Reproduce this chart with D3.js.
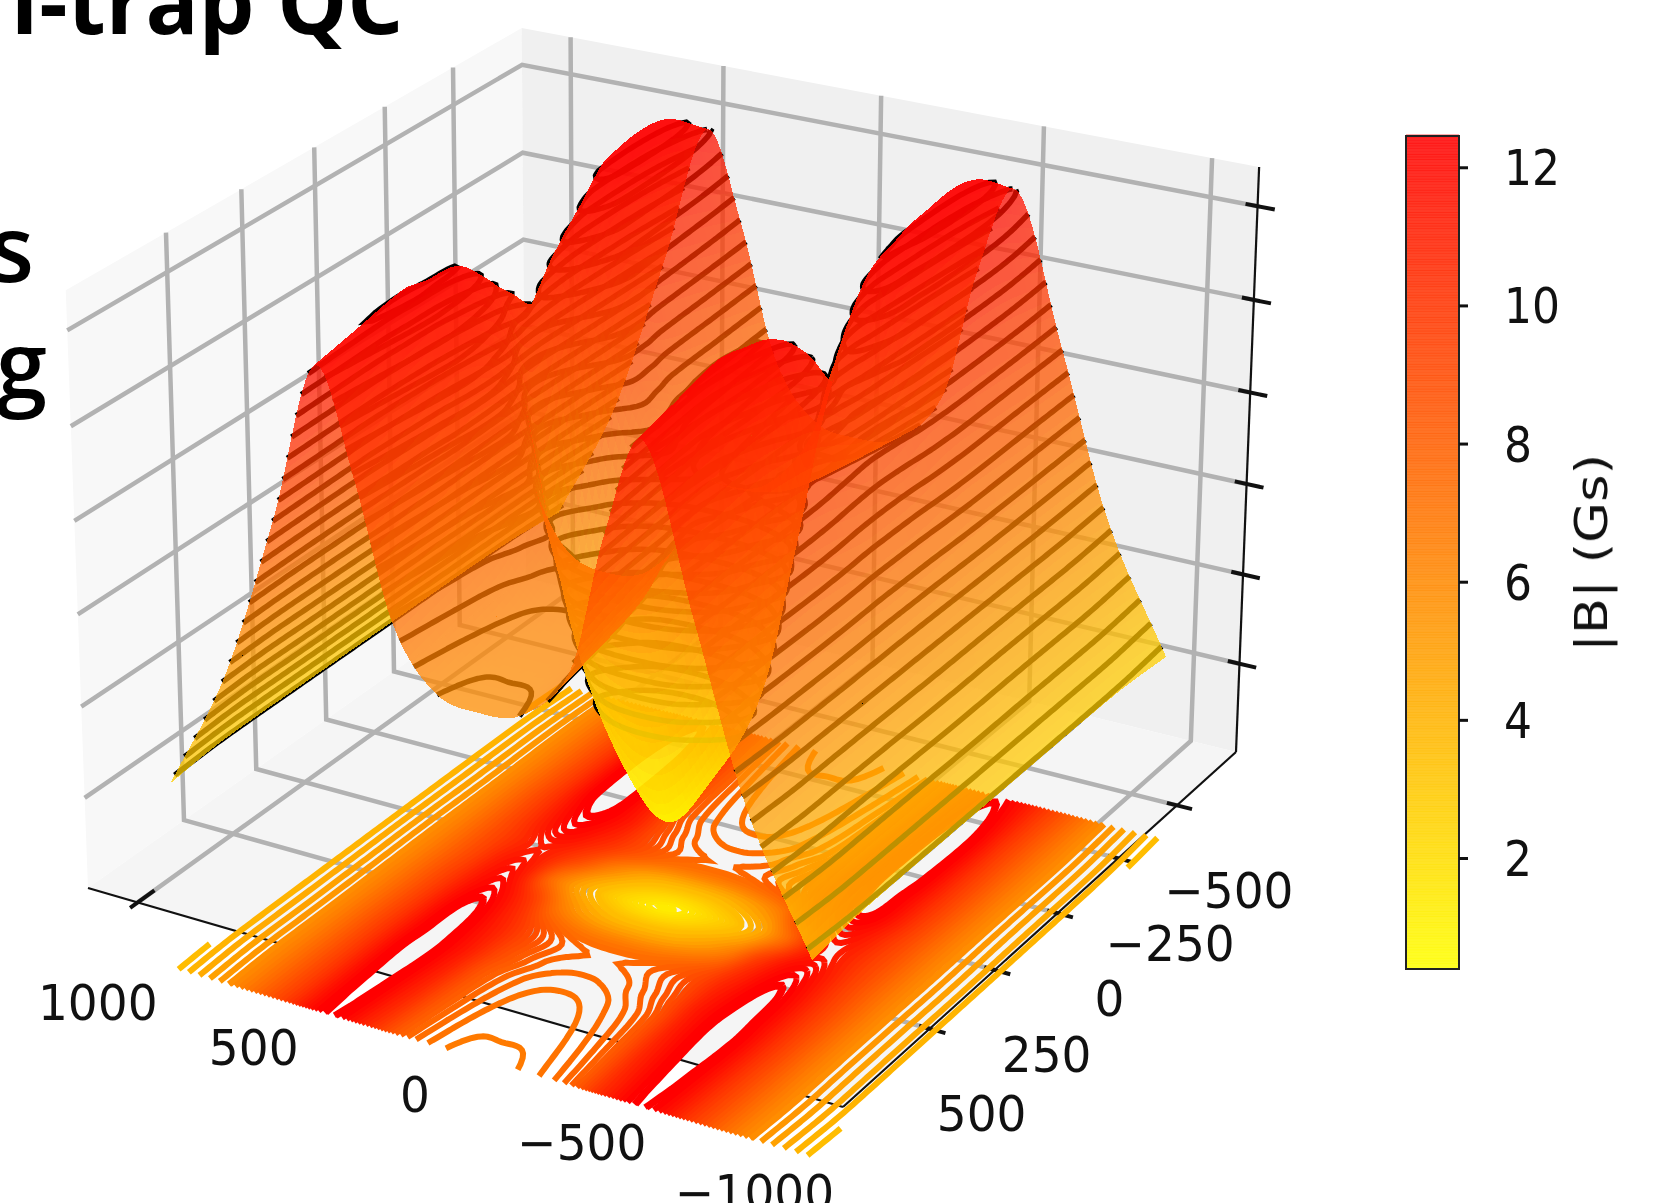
<!DOCTYPE html>
<html>
<head>
<meta charset="utf-8">
<script src="https://cdn.jsdelivr.net/npm/d3@7"></script>
<style>
  html, body { margin: 0; padding: 0; background: #fff; overflow: hidden; }
  svg { display: block; }
  .tick-label { font-family: "DejaVu Sans"; font-size: 44px; fill: #111; }
  .axis-label { font-family: "DejaVu Sans"; font-size: 47px; fill: #111; }
  .slide { font-family: "Open Sans"; font-weight: 600; fill: #000; }
</style>
</head>
<body>
<svg id="chart" width="1666" height="1203"></svg>
<script>
// tick labels
const xTicks = [1000, 500, 0, -500, -1000];
const yTicks = [-500, -250, 0, 250, 500];
const zTicks = [0.6, 2.6, 4.6, 6.6, 8.6, 10.6];
const colorbarTicks = [2, 4, 6, 8, 10, 12];

// axis limits
const xLimits = [1163, -1137];
const yLimits = [820, -760];
const zLimits = [-1.4, 11.43];
const colorLimits = [0.4, 12.46];

// |B|, x runs left to right, rows run near to far
const xValues = [703, 517, 358, 228, 118, 13, -107, -237, -367, -507, -597, -707, -847, -997, -1182];
const yValues = [995, 856, 713, 641, 534, 437, 344, 250, 171, 80, 7, -187, -361];
const fieldB = [
  [2.6, 5.3, 8.8, 12.0, 9.9, 7.2, 6.0, 5.8, 6.0, 7.2, 9.9, 12.0, 8.8, 5.3, 2.6],
  [2.72, 5.4, 8.9, 12.2, 10.3, 7.5, 6.2, 6.0, 6.2, 7.5, 10.3, 12.2, 8.9, 5.4, 2.72],
  [2.75, 5.4, 9.0, 12.4, 10.7, 7.8, 6.5, 6.2, 6.5, 7.8, 10.7, 12.4, 9.0, 5.4, 2.75],
  [2.75, 5.4, 9.0, 12.3, 10.8, 8.2, 6.8, 6.5, 6.8, 8.2, 10.8, 12.3, 9.0, 5.4, 2.75],
  [2.75, 5.4, 8.9, 12.2, 10.4, 8.2, 6.8, 6.5, 6.8, 8.2, 10.3, 12.1, 8.9, 5.4, 2.75],
  [2.75, 5.4, 8.8, 11.6, 9.3, 5.8, 3.6, 3.0, 3.6, 5.8, 9.1, 11.5, 8.7, 5.4, 2.75],
  [2.75, 5.4, 8.6, 10.9, 6.6, 3.6, 1.6, 0.5, 1.6, 3.6, 6.6, 10.5, 8.6, 5.4, 2.75],
  [2.75, 5.4, 8.6, 10.4, 8.6, 5.8, 3.6, 3.0, 3.6, 5.8, 9.1, 11.2, 8.7, 5.4, 2.75],
  [2.75, 5.4, 8.8, 11.3, 10.0, 8.2, 6.8, 6.5, 6.8, 8.2, 10.3, 12.1, 8.9, 5.4, 2.75],
  [2.75, 5.4, 9.0, 12.0, 10.8, 8.2, 6.8, 6.5, 6.8, 8.2, 10.8, 12.3, 9.0, 5.4, 2.75],
  [2.75, 5.4, 9.0, 12.5, 10.7, 7.8, 6.5, 6.2, 6.5, 7.8, 10.7, 12.5, 9.0, 5.4, 2.75],
  [2.72, 5.4, 8.9, 12.6, 10.3, 7.5, 6.2, 6.0, 6.2, 7.5, 10.3, 12.6, 8.9, 5.4, 2.72],
  [2.6, 5.3, 8.8, 11.8, 9.9, 7.2, 6.0, 5.8, 6.0, 7.2, 9.9, 11.8, 8.8, 5.3, 2.6]
];

// box corners on the page, used to calibrate the view
const cornerL = [88, 888], cornerF = [843, 1107], cornerR = [1236, 752], cornerB = [526, 578];
const cornerTL = [66, 297], cornerTR = [1259, 170], cornerTB = [524, 19];

const svg = d3.select("#chart");
const root = svg.append("g").style("filter", "blur(0.6px)");

const xScale = d3.scaleLinear().domain(xLimits).range([0, 1]);
const yScale = d3.scaleLinear().domain(yLimits).range([0, 1]);
const zScale = d3.scaleLinear().domain(zLimits).range([0, 1]);

// floor homography, square -> quad
const H = (() => {
  const [x0, y0] = cornerL, [x1, y1] = cornerF, [x2, y2] = cornerR, [x3, y3] = cornerB;
  const dx1 = x1 - x2, dx2 = x3 - x2, sx = x0 - x1 + x2 - x3;
  const dy1 = y1 - y2, dy2 = y3 - y2, sy = y0 - y1 + y2 - y3;
  const den = dx1 * dy2 - dx2 * dy1;
  const g = (sx * dy2 - dx2 * sy) / den, h = (dx1 * sy - sx * dy1) / den;
  return { a: x1 - x0 + g * x1, b: x3 - x0 + h * x3, c: x0, d: y1 - y0 + g * y1, e: y3 - y0 + h * y3, f: y0, g, h };
})();

// vertical vanishing point from the two side edges
const slopeL = (cornerTL[0] - cornerL[0]) / (cornerTL[1] - cornerL[1]);
const slopeR = (cornerTR[0] - cornerR[0]) / (cornerTR[1] - cornerR[1]);
const vanishY = (cornerR[0] - cornerL[0] + slopeL * cornerL[1] - slopeR * cornerR[1]) / (slopeL - slopeR);
const vanishX = cornerL[0] + slopeL * (vanishY - cornerL[1]);
const heightK = d3.mean([[cornerL, cornerTL, 0, 0], [cornerR, cornerTR, 1, 1], [cornerB, cornerTB, 0, 1]], ([p, t, u, v]) =>
  (H.g * u + H.h * v + 1) * (t[1] - p[1]) / (vanishY - t[1]));

function project(x, y, z) {
  const u = xScale(x), v = yScale(y), w = zScale(z) * heightK;
  const q = H.g * u + H.h * v + 1 + w;
  return [(H.a * u + H.b * v + H.c + w * vanishX) / q, (H.d * u + H.e * v + H.f + w * vanishY) / q];
}

// nearer to the camera = larger, azim 120 elev 30
function depth(x, y, z) {
  return (0.5 - xScale(x)) * -0.433 + (0.5 - yScale(y)) * 0.75 + zScale(z) * 0.875 * 0.5;
}

const colormap = d3.scaleLinear().domain(colorLimits).range(["#ffff00", "#ff0000"]).clamp(true);

// ---- resample the table for a smooth surface
function hermite(ts, vs, t) {
  let i = d3.bisectRight(ts, t) - 1;
  i = Math.max(0, Math.min(ts.length - 2, i));
  const tan = k => {
    const a = Math.max(0, k - 1), b = Math.min(ts.length - 1, k + 1);
    return (vs[b] - vs[a]) / (ts[b] - ts[a]);
  };
  const h = ts[i + 1] - ts[i], s = (t - ts[i]) / h;
  const s2 = s * s, s3 = s2 * s;
  return (2 * s3 - 3 * s2 + 1) * vs[i] + (s3 - 2 * s2 + s) * h * tan(i) + (-2 * s3 + 3 * s2) * vs[i + 1] + (s3 - s2) * h * tan(i + 1);
}

const nx = 170, ny = 120;
const xAsc = xValues.slice().reverse();
const yAsc = yValues.slice().reverse();
const xFine = d3.scaleLinear().domain([0, nx - 1]).range([xValues[0], xValues[xValues.length - 1]]);
const yFine = d3.scaleLinear().domain([0, ny - 1]).range([yValues[0], yValues[yValues.length - 1]]);

const rowsFine = fieldB.map(row => {
  const asc = row.slice().reverse();
  return d3.range(nx).map(i => hermite(xAsc, asc, xFine(i)));
});
const fine = new Float64Array(nx * ny);
for (let i = 0; i < nx; i++) {
  const col = rowsFine.map(r => r[i]).reverse();
  for (let j = 0; j < ny; j++) fine[i + j * nx] = hermite(yAsc, col, yFine(j));
}
const fieldAt = (i, j) => fine[i + j * nx];

// ---- walls, grid, axes
const [xMax, xMin] = xLimits, [yMax, yMin] = yLimits, [zMin, zTop] = zLimits;
const line = d3.line();
const poly = pts => line(pts.map(p => project(...p))) + "Z";

const walls = root.append("g");
walls.append("path").attr("d", poly([[xMax, yMax, zMin], [xMax, yMin, zMin], [xMax, yMin, zTop], [xMax, yMax, zTop]])).attr("fill", "#f8f8f8");
walls.append("path").attr("d", poly([[xMax, yMin, zMin], [xMin, yMin, zMin], [xMin, yMin, zTop], [xMax, yMin, zTop]])).attr("fill", "#f0f0f0");
walls.append("path").attr("d", poly([[xMax, yMax, zMin], [xMin, yMax, zMin], [xMin, yMin, zMin], [xMax, yMin, zMin]])).attr("fill", "#f5f5f5");

const gridLines = [
  ...xTicks.map(x => [[x, yMax, zMin], [x, yMin, zMin], [x, yMin, zTop]]),
  ...yTicks.map(y => [[xMin, y, zMin], [xMax, y, zMin], [xMax, y, zTop]]),
  ...zTicks.map(z => [[xMin, yMin, z], [xMax, yMin, z], [xMax, yMax, z]])
];
root.append("g").selectAll("path").data(gridLines).join("path")
  .attr("d", d => line(d.map(p => project(...p))))
  .attr("fill", "none").attr("stroke", "#b2b2b2").attr("stroke-width", 4.5);

const axisLines = [
  [[xMax, yMax, zMin], [xMin, yMax, zMin]],
  [[xMin, yMax, zMin], [xMin, yMin, zMin]],
  [[xMin, yMin, zMin], [xMin, yMin, zTop]]
];
root.append("g").selectAll("path").data(axisLines).join("path")
  .attr("d", d => line(d.map(p => project(...p))))
  .attr("fill", "none").attr("stroke", "#111").attr("stroke-width", 2.2);

const tickMarks = [
  ...xTicks.map(x => [[x, yMax - 55, zMin], [x, yMax + 25, zMin]]),
  ...yTicks.map(y => [[xMin + 30, y, zMin], [xMin - 45, y, zMin]]),
  ...zTicks.map(z => [[xMin + 35, yMin, z], [xMin - 50, yMin, z]])
];
root.append("g").selectAll("path").data(tickMarks).join("path")
  .attr("d", d => line(d.map(p => project(...p))))
  .attr("stroke", "#111").attr("stroke-width", 4);

// ---- contour lines from the fine grid
const contourGen = d3.contours().size([nx, ny]).smooth(true);

function contourSegments(level) {
  const segs = [];
  contourGen.contour(fine, level).coordinates.forEach(polygon => polygon.forEach(ring => {
    let cur = [];
    ring.forEach(([cx, cy]) => {
      if (cx <= 0.01 || cy <= 0.01 || cx >= nx - 0.01 || cy >= ny - 0.01) {
        if (cur.length > 1) segs.push(cur);
        cur = [];
      } else {
        cur.push([xFine(cx - 0.5), yFine(cy - 0.5)]);
      }
    });
    if (cur.length > 1) segs.push(cur);
  }));
  return segs;
}

// coloured lines on the floor, sparse on the outer slopes
const floorLevels = [...d3.range(0.55, 2.7, 0.2), ...d3.range(2.7, 5, 0.45), ...d3.range(5, 11.95, 0.3), 11.95];
const floorG = root.append("g").attr("fill", "none").attr("stroke-width", 6);
floorLevels.forEach(level => {
  floorG.append("path")
    .attr("d", contourSegments(level).map(seg => line(seg.map(([x, y]) => project(x, y, zMin)))).join(""))
    .attr("stroke", colormap(level + 0.8));
});

// black level lines on the surface, behind the translucent facets
const blackLevels = d3.range(2.8, 12.4, 0.45);
const blackG = root.append("g").attr("fill", "none").attr("stroke", "#000").attr("stroke-width", 5.5);
blackLevels.forEach(level => {
  blackG.append("path").attr("d", contourSegments(level).map(seg => line(seg.map(([x, y]) => project(x, y, level)))).join(""));
});

// ---- surface facets, far ones first
const facets = [];
for (let j = 0; j < ny - 1; j++) {
  for (let i = 0; i < nx - 1; i++) {
    const corners = [[i, j], [i + 1, j], [i + 1, j + 1], [i, j + 1]].map(([a, b]) => [xFine(a), yFine(b), fieldAt(a, b)]);
    const zMean = d3.mean(corners, c => c[2]);
    facets.push({
      d: line(corners.map(c => project(...c))) + "Z",
      z: zMean,
      depth: depth(d3.mean(corners, c => c[0]), d3.mean(corners, c => c[1]), zMean)
    });
  }
}
facets.sort((a, b) => a.depth - b.depth);
root.append("g").attr("shape-rendering", "crispEdges").attr("fill-opacity", 0.74)
  .selectAll("path").data(facets).join("path")
  .attr("d", d => d.d)
  .attr("fill", d => colormap(d.z));

// ---- tick labels
function tickLabel(text, px, py) {
  root.append("text").attr("class", "axis-label")
    .attr("transform", `translate(${px},${py}) scale(1,1.06)`)
    .attr("text-anchor", "middle").attr("dominant-baseline", "central")
    .text(text);
}
const fmt = v => String(v).replace("-", "\u2212");
xTicks.forEach(x => {
  const [px, py] = project(x, yMax, zMin);
  tickLabel(fmt(x), px - 40, py + 100);
});
yTicks.forEach(y => {
  const [px, py] = project(xMin, y, zMin);
  tickLabel(fmt(y), px + 52, py + 85);
});

// ---- colorbar
const barX = 1406, barW = 53, barTop = 136, barBottom = 969;
const barScale = d3.scaleLinear().domain(colorLimits).range([barBottom, barTop]);
const barG = root.append("g");
barG.selectAll("rect").data(d3.range(colorLimits[0], colorLimits[1], 0.04)).join("rect")
  .attr("x", barX).attr("width", barW)
  .attr("y", d => barScale(d + 0.04)).attr("height", d => barScale(d) - barScale(d + 0.04) + 0.5)
  .attr("fill", d => colormap(d)).attr("fill-opacity", 0.85);
barG.append("rect").attr("x", barX).attr("y", barTop).attr("width", barW).attr("height", barBottom - barTop)
  .attr("fill", "none").attr("stroke", "#222").attr("stroke-width", 2);
barG.selectAll("line").data(colorbarTicks).join("line")
  .attr("x1", barX + barW).attr("x2", barX + barW + 9)
  .attr("y1", barScale).attr("y2", barScale)
  .attr("stroke", "#111").attr("stroke-width", 3);
colorbarTicks.forEach(t => {
  root.append("text").attr("class", "tick-label")
    .attr("transform", `translate(1504,${barScale(t)}) scale(1,1.13)`)
    .attr("dominant-baseline", "central")
    .text(t);
});
root.append("text").attr("class", "tick-label")
  .attr("transform", "translate(1592,553) rotate(-90) scale(1.2,1)")
  .attr("text-anchor", "middle").attr("dominant-baseline", "central")
  .text("|B| (Gs)");

// ---- slide text cut by the crop
root.append("text").attr("class", "slide").attr("x", 10).attr("y", 34).attr("font-size", 88).style("font-weight", 700).text("I-trap QC");
root.append("text").attr("class", "slide").attr("x", 34).attr("y", 282).attr("text-anchor", "end").attr("font-size", 92).text("s");
root.append("text").attr("class", "slide").attr("x", 47).attr("y", 398).attr("text-anchor", "end").attr("font-size", 92).text("g");
</script>
</body>
</html>
